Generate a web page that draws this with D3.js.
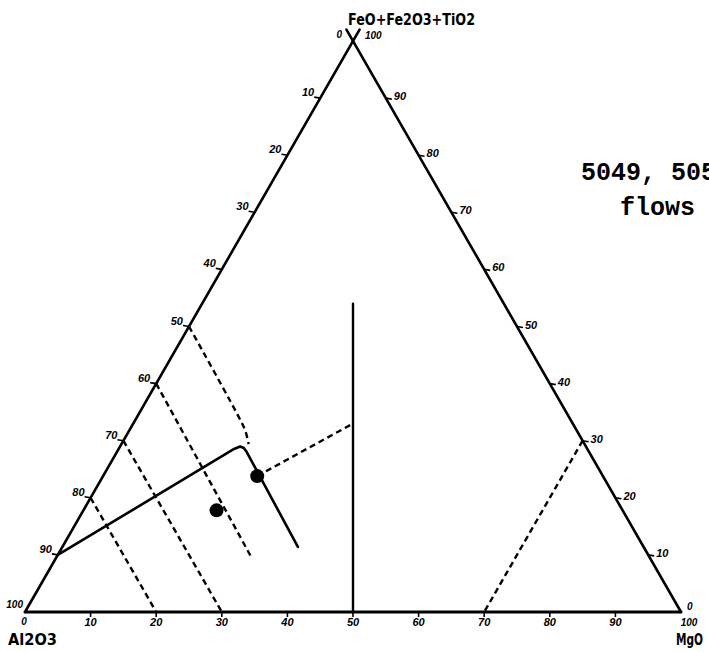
<!DOCTYPE html>
<html><head><meta charset="utf-8">
<script src="https://cdn.jsdelivr.net/npm/d3@7"></script>
<style>body{margin:0;background:#fff}svg{display:block}</style>
</head><body>
<script>
// Ternary components as [Al2O3, FeO+Fe2O3+TiO2, MgO]
const tickValues = [10,20,30,40,50,60,70,80,90];
const apexLabel = "FeO+Fe2O3+TiO2";
const leftLabel = "Al2O3";
const rightLabel = "MgO";
const noteLines = ["5049, 5050", "flows"];

const boundaryLine = [[90,10,0],[53.85,28.55,17.6],[52.7,28.98,18.3],[52.3,28.72,19.0],[52.2,28.02,19.8],[52.7,11.4,35.9]];
const dashed50 = [[50,50,0],[50.4,33,16.6],[50.6,31.5,17.9],[51.2,29.4,19.4]];
const dashed60 = [[60,40,0],[60.7,9.7,29.6]];
const dashed70 = [[70,30,0],[70,0,30]];
const dashed80 = [[80,20,0],[80,0,20]];
const dashedMg70 = [[0,30,70],[30,0,70]];
const tieLine = [[52.7,23.8,23.5],[33.5,33,33.5]];
const medianLine = [[23,54,23],[50,0,50]];
const samplePoints = [[61.9,17.8,20.3],[52.7,23.8,23.5]];

const W = 709, H = 652;
const svg = d3.select("body").append("svg").attr("width", W).attr("height", H);
svg.append("rect").attr("width", W).attr("height", H).attr("fill", "#fff");

const xs = d3.scaleLinear().domain([0,100]).range([25,681]);
const ys = d3.scaleLinear().domain([0,100]).range([612,41]);
const proj = d => { const [a,f,m] = d; const s = a+f+m; return [xs((m + f/2)/s*100), ys(f/s*100)]; };

const line = d3.line().x(d => proj(d)[0]).y(d => proj(d)[1]);
const g = svg.append("g").attr("fill","none").attr("stroke","#000").attr("stroke-linecap","round").attr("stroke-linejoin","round");

// triangle sides (crossing slightly at the apex as in the plot)
g.append("path").attr("d", line([[100,0,0],[-2,102,0]])).attr("stroke-width", 2.6);
g.append("path").attr("d", line([[0,0,100],[0,102,-2]])).attr("stroke-width", 2.6);
g.append("path").attr("d", line([[100,0,0],[0,0,100]])).attr("stroke-width", 2.8);

// ticks
const tickG = svg.append("g").attr("stroke","#000").attr("stroke-width",1.6);
const lab = svg.append("g").attr("font-family","'Liberation Sans', Arial, sans-serif").attr("font-style","italic").attr("font-weight","bold").attr("font-size",11).attr("fill","#000");
tickValues.forEach(v => {
  // left side: Al2O3
  let [x,y] = proj([v,100-v,0]);
  tickG.append("line").attr("x1",x-6).attr("y1",y-1).attr("x2",x).attr("y2",y);
  lab.append("text").attr("x",x-6).attr("y",y-2).attr("text-anchor","end").text(v);
  // right side: FeO+Fe2O3+TiO2
  [x,y] = proj([0,v,100-v]);
  tickG.append("line").attr("x1",x).attr("y1",y).attr("x2",x+6).attr("y2",y+1);
  lab.append("text").attr("x",x+8).attr("y",y+2).attr("text-anchor","start").text(v);
  // bottom: MgO
  [x,y] = proj([100-v,0,v]);
  tickG.append("line").attr("x1",x).attr("y1",y).attr("x2",x).attr("y2",y+5);
  lab.append("text").attr("x",x).attr("y",y+14).attr("text-anchor","middle").text(v);
});
// corner numbers
let [ax,ay] = proj([0,100,0]);
lab.append("text").attr("x",ax-11).attr("y",ay-3).attr("text-anchor","end").attr("font-size",10).text("0");
lab.append("text").attr("x",ax+12).attr("y",ay-2).attr("text-anchor","start").attr("font-size",10).text("100");
let [bx,by] = proj([100,0,0]);
lab.append("text").attr("x",bx-2).attr("y",by-4).attr("text-anchor","end").attr("font-size",10).text("100");
lab.append("text").attr("x",bx-1).attr("y",by+13).attr("text-anchor","middle").attr("font-size",10).text("0");
let [mx,my] = proj([0,0,100]);
lab.append("text").attr("x",mx+6).attr("y",my-2).attr("text-anchor","start").attr("font-size",10).text("0");
lab.append("text").attr("x",mx+8).attr("y",my+14).attr("text-anchor","middle").attr("font-size",10).text("100");

// axis names
const nm = svg.append("g").attr("font-family","'DejaVu Sans', sans-serif").attr("font-weight","bold").attr("fill","#000");
nm.append("text").attr("x",348).attr("y",25).attr("font-size",15).attr("textLength",127).attr("lengthAdjust","spacingAndGlyphs").text(apexLabel);
nm.append("text").attr("x",8).attr("y",645).attr("font-size",16).attr("textLength",49).attr("lengthAdjust","spacingAndGlyphs").text(leftLabel);
nm.append("text").attr("x",676).attr("y",645).attr("font-size",16).attr("textLength",27).attr("lengthAdjust","spacingAndGlyphs").text(rightLabel);

// interior lines
[dashed60, dashed70, dashed80, dashedMg70, tieLine].forEach(d => {
  g.append("path").attr("d", line(d)).attr("stroke-width",2.4).attr("stroke-dasharray","6,4").attr("stroke-linecap","butt");
});
const curved = d3.line().x(d => proj(d)[0]).y(d => proj(d)[1]).curve(d3.curveCatmullRom.alpha(0.5));
g.append("path").attr("d", curved(dashed50)).attr("stroke-width",2.4).attr("stroke-dasharray","6,4").attr("stroke-linecap","butt");
g.append("path").attr("d", line(boundaryLine)).attr("stroke-width",2.6);
g.append("path").attr("d", line(medianLine)).attr("stroke-width",2.4);

svg.append("g").selectAll("circle").data(samplePoints).join("circle")
  .attr("cx", d => proj(d)[0]).attr("cy", d => proj(d)[1]).attr("r", 7).attr("fill","#000");

// note
const note = svg.append("g").attr("font-family","'Liberation Mono', 'Courier New', monospace").attr("font-weight","bold").attr("font-size",25).attr("fill","#000");
note.append("text").attr("x",581).attr("y",180).text(noteLines[0]);
note.append("text").attr("x",620).attr("y",215).text(noteLines[1]);
</script>
</body></html>
